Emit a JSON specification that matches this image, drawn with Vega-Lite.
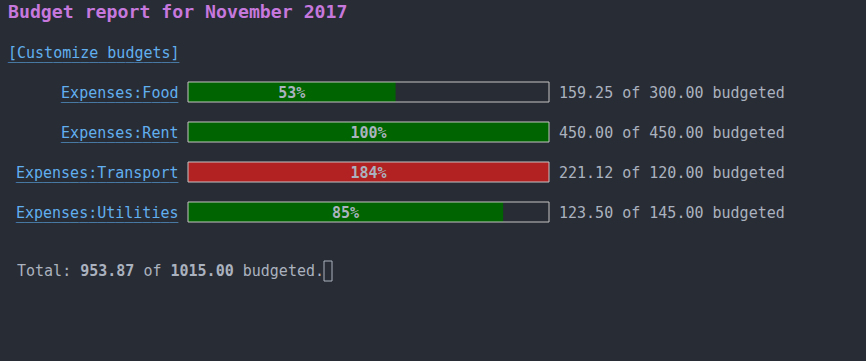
{
  "$schema": "https://vega.github.io/schema/vega-lite/v6.json",
  "width": 361,
  "height": 200,
  "autosize": {"type": "none"},
  "padding": {"left": 188, "top": 82, "right": 317, "bottom": 79},
  "background": "#282c34",
  "config": {"font": "DejaVu Sans Mono", "view": {"stroke": null}},
  "title": {
    "text": "Budget report for November 2017",
    "subtitle": ["[Customize budgets]", "___________________"],
    "subtitleLineHeight": 0.5,
    "anchor": "start",
    "frame": "group",
    "dx": -180,
    "font": "DejaVu Sans Mono",
    "fontSize": 18.2,
    "fontWeight": "bold",
    "color": "#c678dd",
    "subtitleFont": "DejaVu Sans Mono",
    "subtitleFontSize": 15,
    "subtitleColor": "#61afef",
    "subtitlePadding": 24,
    "offset": 19
  },
  "datasets": {
    "budgets": [
      {"account": "Expenses:Food", "spent": 159.25, "budget": 300.00, "pctLabel": "53%", "barFill": 0.575, "summary": "159.25 of 300.00 budgeted"},
      {"account": "Expenses:Rent", "spent": 450.00, "budget": 450.00, "pctLabel": "100%", "barFill": 1.0, "summary": "450.00 of 450.00 budgeted"},
      {"account": "Expenses:Transport", "spent": 221.12, "budget": 120.00, "pctLabel": "184%", "barFill": 1.0, "summary": "221.12 of 120.00 budgeted"},
      {"account": "Expenses:Utilities", "spent": 123.50, "budget": 145.00, "pctLabel": "85%", "barFill": 0.873, "summary": "123.50 of 145.00 budgeted"}
    ],
    "total": [
      {"account": "Total", "spent": 953.87, "budget": 1015.00}
    ]
  },
  "encoding": {
    "y": {
      "field": "account",
      "type": "nominal",
      "scale": {
        "type": "band",
        "domain": ["Expenses:Food", "gap1", "Expenses:Rent", "gap2", "Expenses:Transport", "gap3", "Expenses:Utilities", "gap4", "gap5", "Total"],
        "paddingInner": 0,
        "paddingOuter": 0
      },
      "axis": {
        "title": null,
        "domain": false,
        "ticks": false,
        "grid": false,
        "labelPadding": 10,
        "labelFont": "DejaVu Sans Mono",
        "labelFontSize": 15,
        "labelColor": "#61afef",
        "labelLimit": 0,
        "labelOverlap": false,
        "labelFlush": false,
        "labelLineHeight": 0.5,
        "labelOffset": 1,
        "labelExpr": "indexof(datum.label, 'Expenses') === 0 ? [datum.label, replace(datum.label, regexp('.', 'g'), '_')] : ''"
      }
    }
  },
  "layer": [
    {
      "data": {"name": "budgets"},
      "mark": {"type": "bar"},
      "encoding": {
        "x": {"field": "barFill", "type": "quantitative", "scale": {"domain": [0, 1], "nice": false, "zero": true}, "axis": null},
        "x2": {"datum": 0},
        "color": {"condition": {"test": "datum.spent > datum.budget", "value": "#b22222"}, "value": "#006400"}
      }
    },
    {
      "data": {"name": "budgets"},
      "mark": {"type": "bar", "filled": false, "stroke": "#c4c4c4", "strokeWidth": 1},
      "encoding": {
        "x": {"datum": 0, "type": "quantitative", "scale": {"domain": [0, 1], "nice": false}, "axis": null},
        "x2": {"datum": 1}
      }
    },
    {
      "data": {"name": "budgets"},
      "mark": {"type": "text", "fontWeight": "bold", "fontSize": 15, "color": "#abb2bf", "align": "center", "baseline": "middle", "dy": 1},
      "encoding": {
        "x": {"field": "barFill", "type": "quantitative", "scale": {"domain": [0, 2], "nice": false}, "axis": null},
        "text": {"field": "pctLabel"}
      }
    },
    {
      "data": {"name": "budgets"},
      "mark": {"type": "text", "fontSize": 15, "color": "#abb2bf", "align": "left", "baseline": "middle", "dx": 10, "dy": 1},
      "encoding": {
        "x": {"datum": 1, "type": "quantitative", "scale": {"domain": [0, 1], "nice": false}, "axis": null},
        "text": {"field": "summary"}
      }
    },
    {
      "data": {"name": "total"},
      "mark": {"type": "text", "fontSize": 15, "color": "#abb2bf", "align": "left", "baseline": "middle", "dx": -171, "dy": -1},
      "encoding": {
        "x": {"datum": 0, "type": "quantitative", "scale": {"domain": [0, 1], "nice": false}, "axis": null},
        "text": {"value": "Total:"}
      }
    },
    {
      "data": {"name": "total"},
      "mark": {"type": "text", "fontSize": 15, "fontWeight": "bold", "color": "#abb2bf", "align": "left", "baseline": "middle", "dx": -107.8, "dy": -1},
      "encoding": {
        "x": {"datum": 0, "type": "quantitative", "scale": {"domain": [0, 1], "nice": false}, "axis": null},
        "text": {"field": "spent", "format": ".2f"}
      }
    },
    {
      "data": {"name": "total"},
      "mark": {"type": "text", "fontSize": 15, "color": "#abb2bf", "align": "left", "baseline": "middle", "dx": -44.6, "dy": -1},
      "encoding": {
        "x": {"datum": 0, "type": "quantitative", "scale": {"domain": [0, 1], "nice": false}, "axis": null},
        "text": {"value": "of"}
      }
    },
    {
      "data": {"name": "total"},
      "mark": {"type": "text", "fontSize": 15, "fontWeight": "bold", "color": "#abb2bf", "align": "left", "baseline": "middle", "dx": -17.5, "dy": -1},
      "encoding": {
        "x": {"datum": 0, "type": "quantitative", "scale": {"domain": [0, 1], "nice": false}, "axis": null},
        "text": {"field": "budget", "format": ".2f"}
      }
    },
    {
      "data": {"name": "total"},
      "mark": {"type": "text", "fontSize": 15, "color": "#abb2bf", "align": "left", "baseline": "middle", "dx": 54.75, "dy": -1},
      "encoding": {
        "x": {"datum": 0, "type": "quantitative", "scale": {"domain": [0, 1], "nice": false}, "axis": null},
        "text": {"value": "budgeted."}
      }
    },
    {
      "data": {"name": "total"},
      "mark": {"type": "bar", "filled": false, "stroke": "#abb2bf", "strokeWidth": 1, "xOffset": 136, "x2Offset": 144, "yOffset": -1, "y2Offset": -1},
      "encoding": {
        "x": {"datum": 0, "type": "quantitative", "scale": {"domain": [0, 1], "nice": false}, "axis": null},
        "x2": {"datum": 0}
      }
    }
  ],
  "resolve": {"scale": {"x": "independent"}}
}
